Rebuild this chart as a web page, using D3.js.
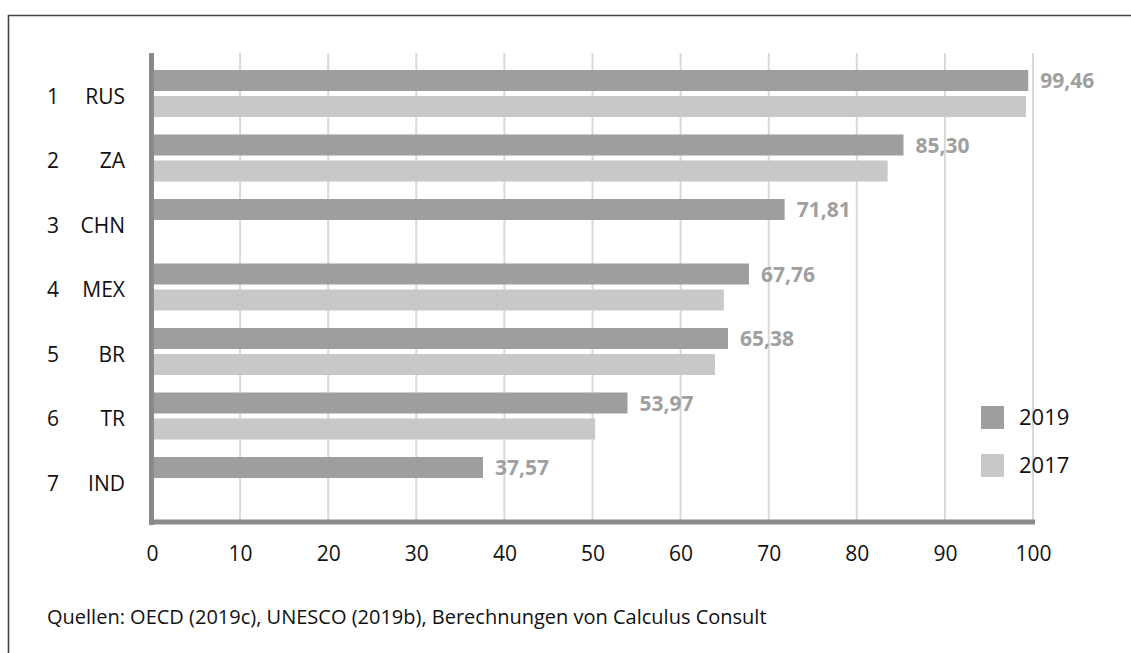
<!DOCTYPE html>
<html>
<head>
<meta charset="utf-8">
<script src="https://cdn.jsdelivr.net/npm/d3@7"></script>
<style>
  html, body { margin: 0; padding: 0; background: #fff; }
  svg { display: block; }
  text { font-family: "Open Sans", "Noto Sans", sans-serif; }
</style>
</head>
<body>
<div id="chart"></div>
<script>
// ---- data ----
const ranks = ["1", "2", "3", "4", "5", "6", "7"];
const categories = ["RUS", "ZA", "CHN", "MEX", "BR", "TR", "IND"];
const series = ["2019", "2017"];
const values2019 = [99.46, 85.30, 71.81, 67.76, 65.38, 53.97, 37.57];
const values2017 = [99.2, 83.5, null, 64.9, 63.9, 50.3, null];
const labels2019 = ["99,46", "85,30", "71,81", "67,76", "65,38", "53,97", "37,57"];
const xTicks = [0, 10, 20, 30, 40, 50, 60, 70, 80, 90, 100];
const source = "Quellen: OECD (2019c), UNESCO (2019b), Berechnungen von Calculus Consult";

const colors = { "2019": "#9e9e9d", "2017": "#c8c8c8" };

const W = 1131, H = 653;
const svg = d3.select("#chart").append("svg").attr("width", W).attr("height", H);

// frame (top and left edges visible)
svg.append("path")
  .attr("d", `M8.5,${H} L8.5,15.5 L${W},15.5`)
  .attr("fill", "none").attr("stroke", "#444").attr("stroke-width", 1.6);

const x = d3.scaleLinear().domain([0, 100]).range([152, 1033]);
const y = d3.scaleBand().domain(categories).range([61.25, 512.75]).padding(0);
const y1 = d3.scaleBand().domain(series).range([8.75, 55.75]).paddingInner(0.192);

const plotTop = 53, plotBottom = 520;

// gridlines
svg.append("g").selectAll("line").data(xTicks.filter(d => d > 0)).join("line")
  .attr("x1", d => x(d)).attr("x2", d => x(d))
  .attr("y1", plotTop).attr("y2", plotBottom)
  .attr("stroke", "#d9d9d9").attr("stroke-width", 2);

// bars
const rows = categories.map((c, i) => ({ c, i, v: { "2019": values2019[i], "2017": values2017[i] } }));
const g = svg.append("g");
series.forEach(s => {
  g.selectAll(".bar-" + s).data(rows.filter(r => r.v[s] != null)).join("rect")
    .attr("x", x(0))
    .attr("y", r => y(r.c) + y1(s))
    .attr("width", r => x(r.v[s]) - x(0))
    .attr("height", y1.bandwidth())
    .attr("fill", colors[s]);
});

// value labels for 2019
g.selectAll(".vlabel").data(rows).join("text")
  .attr("x", r => x(r.v["2019"]) + 12)
  .attr("y", r => y(r.c) + y1("2019") + y1.bandwidth() / 2 + 7.5)
  .attr("font-size", 21).attr("font-weight", 700).attr("fill", "#a0a0a0")
  .text(r => labels2019[r.i]);

// axes lines
svg.append("line").attr("x1", 151.5).attr("x2", 151.5).attr("y1", plotTop).attr("y2", 525)
  .attr("stroke", "#8a8a8a").attr("stroke-width", 5);
svg.append("line").attr("x1", 149).attr("x2", 1035).attr("y1", 522).attr("y2", 522)
  .attr("stroke", "#8a8a8a").attr("stroke-width", 5);

// x axis tick labels
const xAxis = d3.axisBottom(x).tickValues(xTicks).tickSize(0).tickPadding(0).tickFormat(d3.format("d"));
const ax = svg.append("g").attr("transform", "translate(0,546)").call(xAxis);
ax.select(".domain").remove();
ax.selectAll("text").attr("font-size", 21).attr("fill", "#111")
  .attr("font-family", "'Open Sans', 'Noto Sans', sans-serif").attr("dy", "0.71em");

// category labels
svg.append("g").selectAll("text").data(rows).join("text")
  .attr("x", 47).attr("y", r => y(r.c) + y.bandwidth() / 2 + 10)
  .attr("font-size", 21).attr("fill", "#111").text(r => ranks[r.i]);
svg.append("g").selectAll("text").data(rows).join("text")
  .attr("x", 125).attr("y", r => y(r.c) + y.bandwidth() / 2 + 10)
  .attr("text-anchor", "end")
  .attr("font-size", 21).attr("fill", "#111").text(r => r.c);

// legend
const leg = svg.append("g");
series.forEach((s, i) => {
  leg.append("rect").attr("x", 981).attr("y", 406 + i * 48).attr("width", 23).attr("height", 23).attr("fill", colors[s]);
  leg.append("text").attr("x", 1019).attr("y", 424.5 + i * 48).attr("font-size", 22).attr("fill", "#111").text(s);
});

// source
svg.append("text").attr("x", 47).attr("y", 624).attr("font-size", 20).attr("fill", "#111").text(source);
</script>
</body>
</html>
